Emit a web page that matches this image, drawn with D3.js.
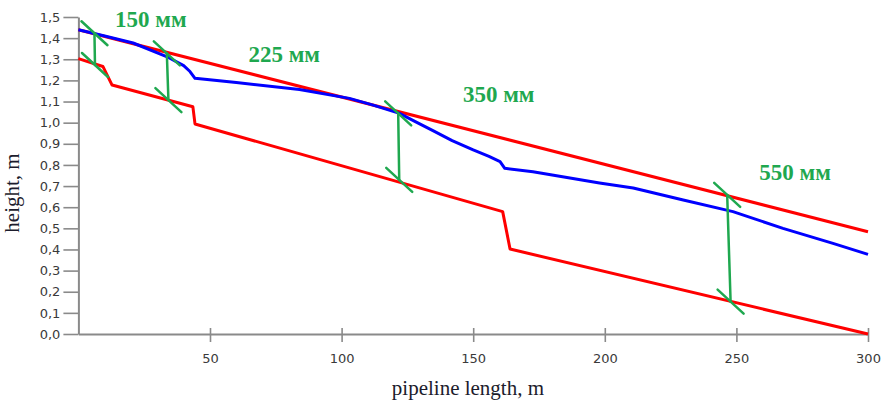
<!DOCTYPE html>
<html>
<head>
<meta charset="utf-8">
<script src="https://cdn.jsdelivr.net/npm/d3@7"></script>
<style>
  body { margin: 0; background: #fff; }
  svg { display: block; }
</style>
</head>
<body>
<div id="chart"></div>
<script>
// pipeline profile: blue = water surface, red = upper / lower bounds
const blueX = [0, 10, 20.8, 33.5, 40, 42.4, 44.3, 60, 84, 103, 112, 122, 128, 134.7, 142, 150, 156, 160.2, 162, 172.7, 198, 210.8, 229.8, 248.7, 267.7, 286.7, 300];
const blueY = [1.44, 1.41, 1.377, 1.313, 1.27, 1.242, 1.21, 1.19, 1.157, 1.115, 1.083, 1.044, 1.005, 0.962, 0.915, 0.871, 0.84, 0.816, 0.784, 0.768, 0.715, 0.691, 0.634, 0.579, 0.5, 0.429, 0.377];

const upperX = [0, 300];
const upperY = [1.44, 0.484];

const lowerX = [0, 9.3, 12.8, 43.5, 44.3, 161.2, 164, 300];
const lowerY = [1.303, 1.266, 1.178, 1.075, 0.994, 0.579, 0.402, 0.0];

// diameter markers (green double lines)
const markerX1 = [6.1, 33.6, 121.5, 246.5];
const markerY1 = [1.423, 1.328, 1.044, 0.658];
const markerX2 = [6.3, 34.2, 121.9, 247.8];
const markerY2 = [1.273, 1.107, 0.729, 0.153];

const labelText = ["150 мм", "225 мм", "350 мм", "550 мм"];
const labelX = [13.9, 64.6, 146.1, 258.7];
const labelY = [1.451, 1.286, 1.099, 0.729];

const xTicks = [50, 100, 150, 200, 250, 300];
const yTicks = d3.range(0, 16).map(i => i / 10);

const margin = {top: 17, right: 18, bottom: 70, left: 78.4};
const size = {width: 886, height: 404};
const width = size.width - margin.left - margin.right;
const height = size.height - margin.top - margin.bottom;

const svg = d3.select("#chart").append("svg")
    .attr("width", size.width)
    .attr("height", size.height);
const g = svg.append("g")
    .attr("transform", "translate(" + margin.left + "," + margin.top + ")");

const xScale = d3.scaleLinear().domain([0, 300]).range([0, width]);
const yScale = d3.scaleLinear().domain([0, 1.5]).range([height, 0]);

const comma = v => d3.format(".1f")(v).replace(".", ",");

// y axis
const yAxisG = g.append("g")
    .call(d3.axisLeft(yScale).tickValues(yTicks).tickFormat(comma)
        .tickSize(15).tickSizeOuter(0).tickPadding(3));

// x axis
const xAxisG = g.append("g")
    .attr("transform", "translate(0," + height + ")")
    .call(d3.axisBottom(xScale).tickValues(xTicks).tickFormat(d3.format("d"))
        .tickSize(8).tickSizeOuter(0).tickPadding(12));
xAxisG.selectAll(".tick line").attr("y1", -6);

[yAxisG, xAxisG].forEach(ax => {
    ax.select(".domain").attr("stroke", "#8a8a8a").attr("stroke-width", 2);
    ax.selectAll(".tick line").attr("stroke", "#8a8a8a").attr("stroke-width", 1.6);
    ax.selectAll(".tick text")
        .attr("fill", "#3a3a3a")
        .style("font-family", "'DejaVu Sans', Verdana, sans-serif")
        .style("font-size", "13px");
});

// lines
const line = d3.line()
    .x(d => xScale(d[0]))
    .y(d => yScale(d[1]));

const series = [
    {xs: lowerX, ys: lowerY, color: "#ff0000"},
    {xs: upperX, ys: upperY, color: "#ff0000"},
    {xs: blueX, ys: blueY, color: "#0000ff"}
];

g.selectAll(".seriesPath")
    .data(series)
    .join("path")
    .attr("class", "seriesPath")
    .attr("d", s => line(s.xs.map((x, i) => [x, s.ys[i]])))
    .attr("fill", "none")
    .attr("stroke", s => s.color)
    .attr("stroke-width", 3)
    .attr("stroke-linejoin", "round");

// green markers
const green = "#1fa84f";
const markers = markerX1.map((x, i) => ({x1: x, y1: markerY1[i], x2: markerX2[i], y2: markerY2[i]}));
const capDx = 13, capDy = 12;

const markerG = g.selectAll(".markerG")
    .data(markers)
    .join("g")
    .attr("class", "markerG")
    .attr("stroke", green)
    .attr("stroke-width", 2.5)
    .attr("stroke-linecap", "round");

markerG.append("line")
    .attr("x1", d => xScale(d.x1)).attr("y1", d => yScale(d.y1))
    .attr("x2", d => xScale(d.x2)).attr("y2", d => yScale(d.y2));
markerG.append("line")
    .attr("x1", d => xScale(d.x1) - capDx).attr("y1", d => yScale(d.y1) - capDy)
    .attr("x2", d => xScale(d.x1) + capDx).attr("y2", d => yScale(d.y1) + capDy);
markerG.append("line")
    .attr("x1", d => xScale(d.x2) - capDx).attr("y1", d => yScale(d.y2) - capDy)
    .attr("x2", d => xScale(d.x2) + capDx).attr("y2", d => yScale(d.y2) + capDy);

// diameter labels
g.selectAll(".diamLabel")
    .data(labelText)
    .join("text")
    .attr("class", "diamLabel")
    .attr("x", (d, i) => xScale(labelX[i]))
    .attr("y", (d, i) => yScale(labelY[i]))
    .attr("fill", green)
    .style("font-family", "'Liberation Serif', 'Times New Roman', serif")
    .style("font-weight", "bold")
    .style("font-size", "23px")
    .text(d => d);

// axis titles
svg.append("text")
    .attr("x", margin.left + xScale(148))
    .attr("y", 395)
    .attr("text-anchor", "middle")
    .attr("fill", "#1c1c2c")
    .style("font-family", "'Liberation Serif', 'Times New Roman', serif")
    .style("font-size", "21px")
    .text("pipeline length, m");

svg.append("text")
    .attr("transform", "translate(19,193) rotate(-90)")
    .attr("text-anchor", "middle")
    .attr("fill", "#1c1c2c")
    .style("font-family", "'Liberation Serif', 'Times New Roman', serif")
    .style("font-size", "21px")
    .text("height, m");
</script>
</body>
</html>
